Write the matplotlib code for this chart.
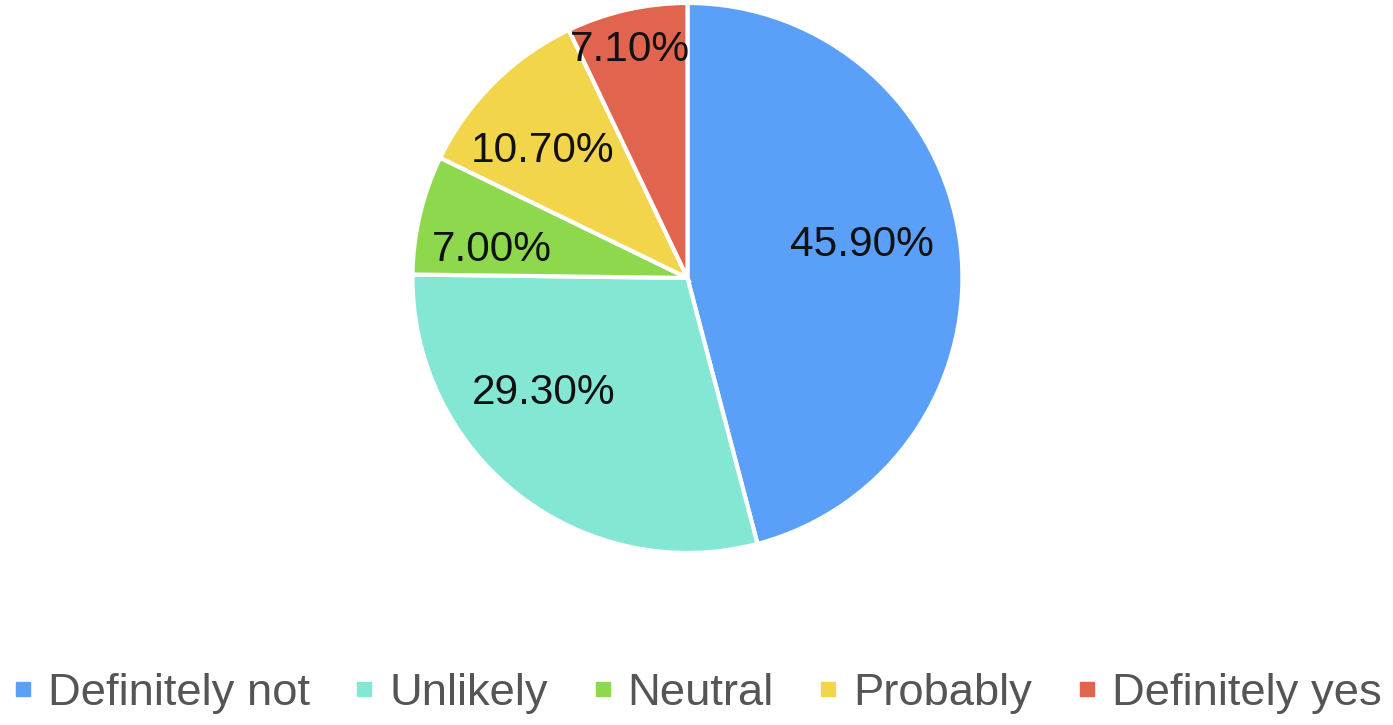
import numpy as np
import matplotlib.pyplot as plt
from matplotlib.lines import Line2D

# === DATA ===
categories = ["Definitely not", "Unlikely", "Neutral", "Probably", "Definitely yes"]
shares = [45.9, 29.3, 7.0, 10.7, 7.1]
colors = ["#5AA0F8", "#84E7D3", "#8ED84E", "#F2D54A", "#E1644F"]

# label placement inside each slice: distance (fraction of radius)
# and a small angular nudge from the slice middle (degrees)
label_dist = [0.645, 0.67, 0.72, 0.70, 0.855]
label_nudge = [3.3, -13.5, 5.2, 4.0, 1.5]

plt.rcParams['font.family'] = ['Liberation Sans', 'DejaVu Sans']

fig = plt.figure(figsize=(13.93, 7.25), dpi=100)
ax = fig.add_axes([0.4935 - 0.1974, 0.6166 - 0.3793, 0.3948, 0.7586])

wedges, texts = ax.pie(
    shares, colors=colors, startangle=90, counterclock=False,
    wedgeprops=dict(edgecolor="white", linewidth=3),
)
ax.set_xlim(-1.0, 1.0)
ax.set_ylim(-1.0, 1.0)
ax.set_aspect("equal")

# put the percentage labels inside each slice
for w, val, d, nudge in zip(wedges, shares, label_dist, label_nudge):
    mid = np.deg2rad((w.theta1 + w.theta2) / 2 + nudge)
    ax.text(d * np.cos(mid), d * np.sin(mid), f"{val:.2f}%",
            ha="center", va="center", fontsize=30.5, color="#111111")

handles = [Line2D([], [], marker="s", linestyle="", markersize=9.5,
                  markerfacecolor=c, markeredgecolor=c) for c in colors]
fig.legend(handles, categories, loc="center", bbox_to_anchor=(0.5, 0.044),
           ncol=5, frameon=False, fontsize=32.7, labelcolor="#555555",
           handlelength=0.5, handletextpad=0.3, columnspacing=0.95)

fig.savefig("out.png", dpi=100)
